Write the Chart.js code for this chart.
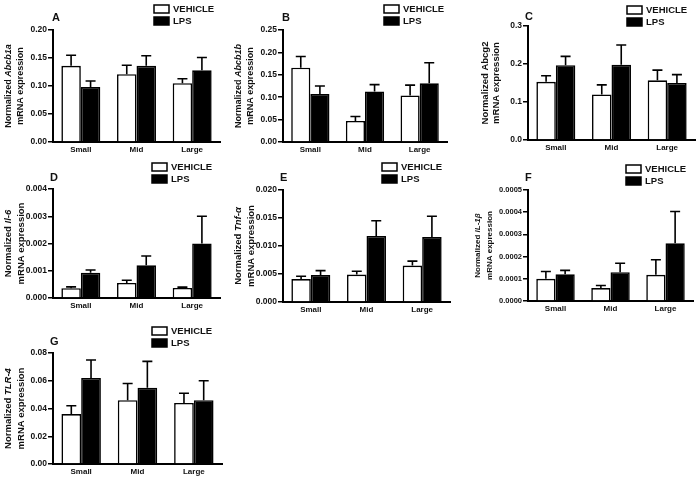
<!DOCTYPE html>
<html>
<head>
<meta charset="utf-8">
<script src="https://cdn.jsdelivr.net/npm/chart.js@4.4.1/dist/chart.umd.min.js"></script>
<style>
  html, body { margin: 0; padding: 0; background: #fff; }
  #figure { position: relative; width: 697px; height: 481px; overflow: hidden; }
  #figure canvas { position: absolute; }
</style>
</head>
<body>
<div id="figure"></div>
<script>
const categories = ['Small', 'Mid', 'Large'];
const seriesNames = ['VEHICLE', 'LPS'];

// A - Abcb1a
const vehicleA = [0.136, 0.121, 0.105];
const vehicleErrA = [0.019, 0.016, 0.008];
const lpsA = [0.098, 0.136, 0.128];
const lpsErrA = [0.011, 0.018, 0.023];
const ticksA = [0, 0.05, 0.10, 0.15, 0.20];

// B - Abcb1b
const vehicleB = [0.166, 0.047, 0.104];
const vehicleErrB = [0.025, 0.010, 0.023];
const lpsB = [0.107, 0.113, 0.131];
const lpsErrB = [0.018, 0.015, 0.046];
const ticksB = [0, 0.05, 0.10, 0.15, 0.20, 0.25];

// C - Abcg2
const vehicleC = [0.153, 0.120, 0.157];
const vehicleErrC = [0.016, 0.025, 0.027];
const lpsC = [0.197, 0.198, 0.150];
const lpsErrC = [0.023, 0.052, 0.022];
const ticksC = [0, 0.1, 0.2, 0.3];

// D - Il-6
const vehicleD = [0.00036, 0.00055, 0.00037];
const vehicleErrD = [0.00005, 0.0001, 0.00003];
const lpsD = [0.00093, 0.0012, 0.0020];
const lpsErrD = [0.0001, 0.00034, 0.0010];
const ticksD = [0, 0.001, 0.002, 0.003, 0.004];

// E - Tnf-α
const vehicleE = [0.0041, 0.0049, 0.0065];
const vehicleErrE = [0.0005, 0.0006, 0.0008];
const lpsE = [0.0048, 0.0118, 0.0116];
const lpsErrE = [0.0008, 0.0027, 0.0037];
const ticksE = [0, 0.005, 0.010, 0.015, 0.020];

// F - IL-1β
const vehicleF = [0.000100, 0.000058, 0.000118];
const vehicleErrF = [0.000033, 0.000012, 0.000068];
const lpsF = [0.000120, 0.000130, 0.000260];
const lpsErrF = [0.000018, 0.000040, 0.000143];
const ticksF = [0, 0.0001, 0.0002, 0.0003, 0.0004, 0.0005];

// G - TLR-4
const vehicleG = [0.036, 0.046, 0.044];
const vehicleErrG = [0.006, 0.012, 0.007];
const lpsG = [0.062, 0.055, 0.046];
const lpsErrG = [0.013, 0.019, 0.014];
const ticksG = [0, 0.02, 0.04, 0.06, 0.08];

const FONT = '"Liberation Sans", Arial, Helvetica, sans-serif';
const INK = '#111';

const panels = [
    { letter: 'A', gene: 'Abcb1a', italic: true, vehicle: vehicleA, vehicleErr: vehicleErrA, lps: lpsA, lpsErr: lpsErrA, ticks: ticksA, decimals: 2,
      col: 0, row: 0, axisX: 53, top: 30, bottom: 142, right: 220, letterX: 52, letterY: 18, legendX: 154, legendY: 9, titleX: [-44, -32], titleSize: 9, tickSize: 8.5 },
    { letter: 'B', gene: 'Abcb1b', italic: true, vehicle: vehicleB, vehicleErr: vehicleErrB, lps: lpsB, lpsErr: lpsErrB, ticks: ticksB, decimals: 2,
      col: 230, row: 0, axisX: 283, top: 30, bottom: 142, right: 447, letterX: 282, letterY: 18, legendX: 384, legendY: 9, titleX: [-44, -32], titleSize: 9, tickSize: 8.5 },
    { letter: 'C', gene: 'Abcg2', italic: false, vehicle: vehicleC, vehicleErr: vehicleErrC, lps: lpsC, lpsErr: lpsErrC, ticks: ticksC, decimals: 1,
      col: 460, row: 0, axisX: 528, top: 26, bottom: 140, right: 695, letterX: 525, letterY: 17, legendX: 627, legendY: 10, titleX: [-43, -32], titleSize: 9.5, tickSize: 8.5 },
    { letter: 'D', gene: 'Il-6', italic: true, vehicle: vehicleD, vehicleErr: vehicleErrD, lps: lpsD, lpsErr: lpsErrD, ticks: ticksD, decimals: 3,
      col: 0, row: 160, axisX: 53, top: 189, bottom: 298, right: 220, letterX: 50, letterY: 178, legendX: 152, legendY: 167, titleX: [-45, -32], titleSize: 9.5, tickSize: 8.5 },
    { letter: 'E', gene: 'Tnf-α', italic: true, vehicle: vehicleE, vehicleErr: vehicleErrE, lps: lpsE, lpsErr: lpsErrE, ticks: ticksE, decimals: 3,
      col: 230, row: 160, axisX: 283, top: 190, bottom: 302, right: 450, letterX: 280, letterY: 178, legendX: 382, legendY: 167, titleX: [-45, -32], titleSize: 9.5, tickSize: 8.5 },
    { letter: 'F', gene: 'IL-1β', italic: true, vehicle: vehicleF, vehicleErr: vehicleErrF, lps: lpsF, lpsErr: lpsErrF, ticks: ticksF, decimals: 4,
      col: 460, row: 160, axisX: 528, top: 190, bottom: 301, right: 693, letterX: 525, letterY: 178, legendX: 626, legendY: 169, titleX: [-50, -38], titleSize: 8, tickSize: 7.5 },
    { letter: 'G', gene: 'TLR-4', italic: true, vehicle: vehicleG, vehicleErr: vehicleErrG, lps: lpsG, lpsErr: lpsErrG, ticks: ticksG, decimals: 2,
      col: 0, row: 320, axisX: 53, top: 353, bottom: 464, right: 222, letterX: 50, letterY: 342, legendX: 152, legendY: 331, titleX: [-45, -32], titleSize: 9.5, tickSize: 8.5 }
];

// upward error bars with a centred cap, placed through the y scale
const errorBars = {
    id: 'errorBars',
    afterDatasetsDraw(chart) {
        const ctx = chart.ctx;
        const yScale = chart.scales.y;
        ctx.save();
        ctx.strokeStyle = '#000';
        ctx.lineWidth = 1.6;
        chart.data.datasets.forEach((ds, i) => {
            const meta = chart.getDatasetMeta(i);
            meta.data.forEach((bar, j) => {
                const yTop = yScale.getPixelForValue(ds.data[j] + ds.errors[j]);
                ctx.beginPath();
                ctx.moveTo(bar.x, bar.y);
                ctx.lineTo(bar.x, yTop);
                ctx.moveTo(bar.x - 5, yTop);
                ctx.lineTo(bar.x + 5, yTop);
                ctx.stroke();
            });
        });
        ctx.restore();
    }
};

// panel letter, legend and the two-line y title with the italic gene name
const panelDecor = {
    id: 'panelDecor',
    afterDraw(chart, args, opts) {
        const ctx = chart.ctx;
        const area = chart.chartArea;
        ctx.save();
        ctx.fillStyle = INK;
        ctx.textBaseline = 'middle';
        ctx.textAlign = 'left';
        ctx.font = 'bold 11px ' + FONT;
        ctx.fillText(opts.letter, opts.letterX, opts.letterY);

        chart.data.datasets.forEach((ds, i) => {
            const y = opts.legendY + i * 12;
            ctx.fillStyle = ds.backgroundColor;
            ctx.fillRect(opts.legendX, y - 4, 15, 8);
            ctx.strokeStyle = '#000';
            ctx.lineWidth = 1.5;
            ctx.strokeRect(opts.legendX, y - 4, 15, 8);
            ctx.fillStyle = INK;
            ctx.font = 'bold 9.5px ' + FONT;
            ctx.fillText(ds.label, opts.legendX + 19, y + 0.5);
        });

        const lines = [
            [['Normalized ', false], [opts.gene, opts.italic]],
            [['mRNA expression', false]]
        ];
        const cy = (area.top + area.bottom) / 2;
        lines.forEach((segs, k) => {
            const fontFor = it => (it ? 'italic ' : '') + 'bold ' + opts.titleSize + 'px ' + FONT;
            let total = 0;
            segs.forEach(([t, it]) => { ctx.font = fontFor(it); total += ctx.measureText(t).width; });
            ctx.save();
            ctx.translate(area.left + opts.titleX[k], cy);
            ctx.rotate(-Math.PI / 2);
            let x = -total / 2;
            segs.forEach(([t, it]) => {
                ctx.font = fontFor(it);
                ctx.fillText(t, x, 0);
                x += ctx.measureText(t).width;
            });
            ctx.restore();
        });
        ctx.restore();
    }
};

const figure = document.getElementById('figure');

panels.forEach(p => {
    const canvas = document.createElement('canvas');
    const width = p.right - p.col + 6;
    const height = p.bottom - p.row + 18;
    canvas.width = width;
    canvas.height = height;
    canvas.style.left = p.col + 'px';
    canvas.style.top = p.row + 'px';
    canvas.style.width = width + 'px';
    canvas.style.height = height + 'px';
    figure.appendChild(canvas);

    const ticks = p.ticks;
    new Chart(canvas.getContext('2d'), {
        type: 'bar',
        data: {
            labels: categories,
            datasets: [
                {
                    label: seriesNames[0],
                    data: p.vehicle,
                    errors: p.vehicleErr,
                    backgroundColor: '#ffffff',
                    borderColor: '#000000',
                    borderWidth: 1.6
                },
                {
                    label: seriesNames[1],
                    data: p.lps,
                    errors: p.lpsErr,
                    backgroundColor: '#000000',
                    borderColor: '#000000',
                    borderWidth: 1.6
                }
            ]
        },
        options: {
            responsive: false,
            animation: false,
            devicePixelRatio: 1,
            layout: { padding: { top: p.top - p.row, right: 6, left: 0, bottom: 0 } },
            datasets: { bar: { barPercentage: 1.0, categoryPercentage: 0.7 } },
            scales: {
                x: {
                    grid: { display: false, drawTicks: false },
                    border: { display: true, color: '#000', width: 2 },
                    ticks: { color: INK, padding: 3, font: { family: FONT, size: 8, weight: 'bold' } },
                    afterFit: s => { s.height = 18; }
                },
                y: {
                    min: 0,
                    max: ticks[ticks.length - 1],
                    grid: { display: true, drawOnChartArea: false, drawTicks: true, tickLength: 5, color: '#000', lineWidth: 1.5 },
                    border: { display: true, color: '#000', width: 2 },
                    ticks: {
                        color: INK,
                        padding: 1,
                        font: { family: FONT, size: p.tickSize, weight: 'bold' },
                        callback: v => Number(v).toFixed(p.decimals)
                    },
                    afterBuildTicks: s => { s.ticks = ticks.map(v => ({ value: v })); },
                    afterFit: s => { s.width = p.axisX - p.col; }
                }
            },
            plugins: {
                legend: { display: false },
                tooltip: { enabled: false },
                panelDecor: {
                    letter: p.letter,
                    letterX: p.letterX - p.col,
                    letterY: p.letterY - p.row,
                    legendX: p.legendX - p.col,
                    legendY: p.legendY - p.row,
                    gene: p.gene,
                    italic: p.italic,
                    titleX: p.titleX,
                    titleSize: p.titleSize
                }
            }
        },
        plugins: [errorBars, panelDecor]
    });
});
</script>
</body>
</html>
